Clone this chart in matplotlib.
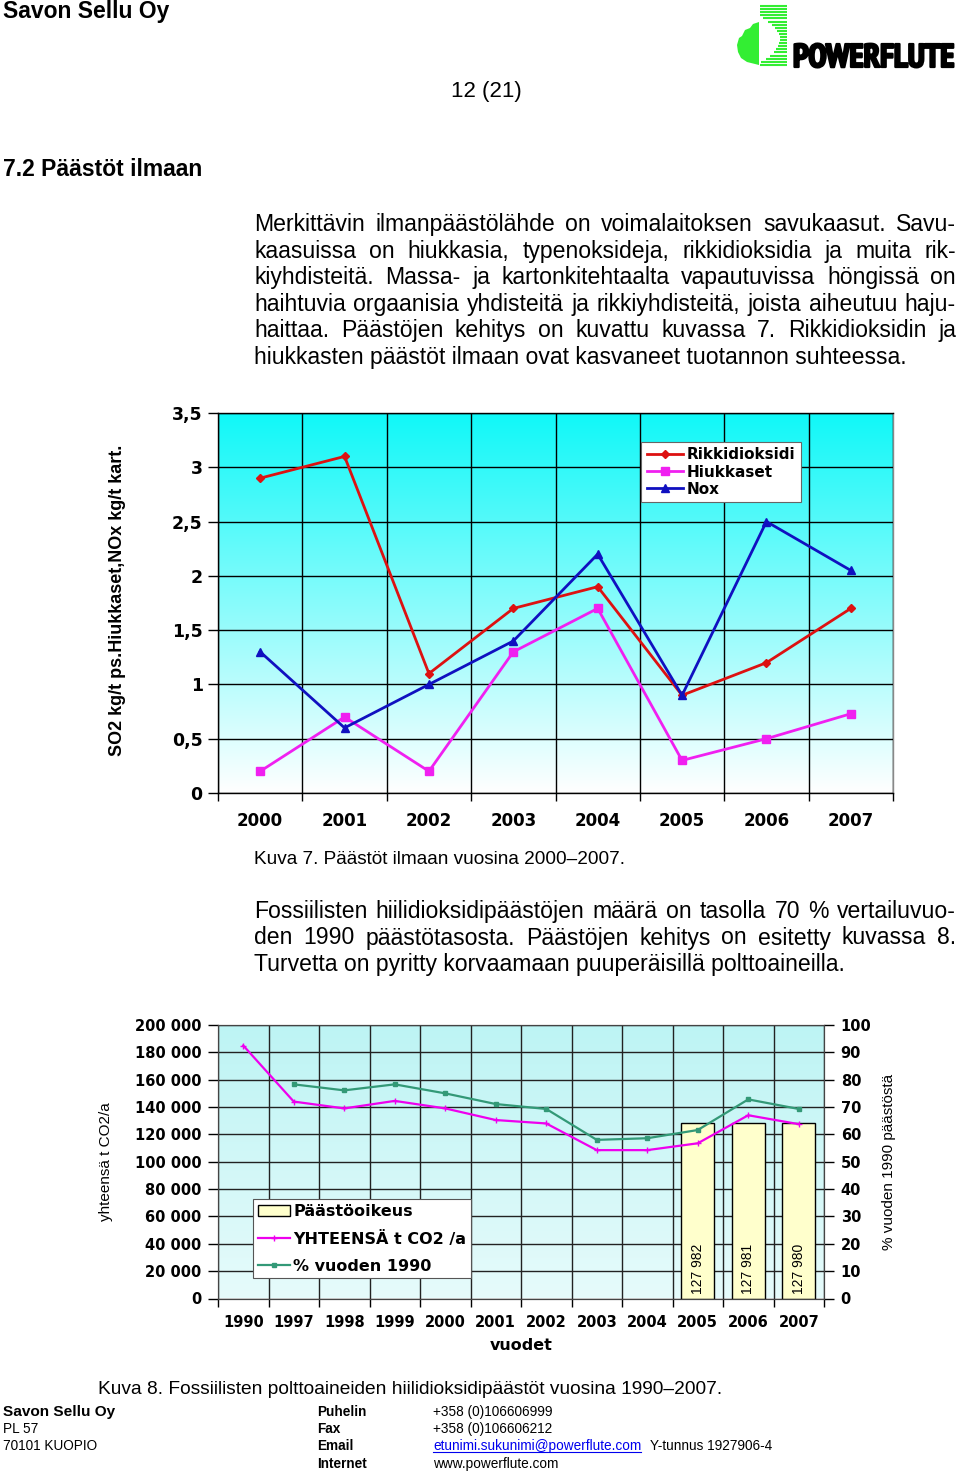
import numpy as np
import matplotlib
matplotlib.use("Agg")
import matplotlib.pyplot as plt
from matplotlib import font_manager
from matplotlib import patheffects
from matplotlib.patches import Polygon

# --- data: kuva 7 (emissions to air, kg/t) ---
years1 = ["2000", "2001", "2002", "2003", "2004", "2005", "2006", "2007"]
so2 = [2.9, 3.1, 1.1, 1.7, 1.9, 0.9, 1.2, 1.7]
particles = [0.2, 0.7, 0.2, 1.3, 1.7, 0.3, 0.5, 0.73]
nox = [1.3, 0.6, 1.0, 1.4, 2.2, 0.9, 2.5, 2.05]
yticks1 = [0, 0.5, 1, 1.5, 2, 2.5, 3, 3.5]

# --- data: kuva 8 (fossil CO2) ---
years2 = ["1990", "1997", "1998", "1999", "2000", "2001", "2002",
          "2003", "2004", "2005", "2006", "2007"]
co2_total = [185000, 144000, 139000, 144500, 139000, 130500, 128000,
             108500, 108500, 113500, 134000, 127500]
pct_1990 = [np.nan, 78.3, 76.1, 78.3, 75.0, 71.1, 69.3, 58.0, 58.6, 61.6, 72.8, 69.3]
allowance = [np.nan] * 9 + [127982, 127981, 127980]
yticks2 = list(range(0, 200001, 20000))
yticks2r = list(range(0, 101, 10))

para1 = [
    "Merkittävin ilmanpäästölähde on voimalaitoksen savukaasut. Savu-",
    "kaasuissa on hiukkasia, typenoksideja, rikkidioksidia ja muita rik-",
    "kiyhdisteitä. Massa- ja kartonkitehtaalta vapautuvissa höngissä on",
    "haihtuvia orgaanisia yhdisteitä ja rikkiyhdisteitä, joista aiheutuu haju-",
    "haittaa. Päästöjen kehitys on kuvattu kuvassa 7. Rikkidioksidin ja",
    "hiukkasten päästöt ilmaan ovat kasvaneet tuotannon suhteessa.",
]
para2 = [
    "Fossiilisten hiilidioksidipäästöjen määrä on tasolla 70 % vertailuvuo-",
    "den 1990 päästötasosta. Päästöjen kehitys on esitetty kuvassa 8.",
    "Turvetta on pyritty korvaamaan puuperäisillä polttoaineilla.",
]

W, H = 960, 1473
BODY = "Liberation Sans"
BOLDW = "DejaVu Sans"

# condensed bold face for the logo word, if one is installed
logo_font = font_manager.FontProperties(family=BODY, weight="bold")
narrow = [f for f in font_manager.fontManager.ttflist
          if ("Narrow" in f.name or "Condensed" in f.name or "condensed" in str(f.stretch))
          and f.weight in (600, 700, 800, 900, "bold", "heavy", "black")
          and f.style == "normal"]
if narrow:
    narrow.sort(key=lambda f: 0 if "Narrow" in f.name else 1)
    logo_font = font_manager.FontProperties(fname=narrow[0].fname)

fig = plt.figure(figsize=(W / 100, H / 100), dpi=100)
fig.patch.set_facecolor("white")
renderer = fig.canvas.get_renderer()

page = fig.add_axes([0, 0, 1, 1])
page.set_xlim(0, W)
page.set_ylim(H, 0)
page.axis("off")


def fit_size(s, width, **kw):
    t = page.text(0, 0, s, fontsize=10, **kw)
    w = t.get_window_extent(renderer).width
    t.remove()
    return 10 * width / w


def justify(lines, x0, x1, base, step, fs):
    for i, line in enumerate(lines):
        y = base + i * step
        if i == len(lines) - 1:
            page.text(x0, y, line, fontsize=fs, family=BODY, va="baseline")
            continue
        words = line.split(" ")
        arts = [page.text(x0, y, w, fontsize=fs, family=BODY, va="baseline") for w in words]
        widths = [a.get_window_extent(renderer).width for a in arts]
        gap = (x1 - x0 - sum(widths)) / (len(words) - 1)
        x = x0
        for a, w in zip(arts, widths):
            a.set_x(x)
            x += w + gap


# header
fs = fit_size("Savon Sellu Oy", 167, family=BODY, weight="bold")
page.text(3, 18, "Savon Sellu Oy", fontsize=fs, family=BODY, weight="bold", va="baseline")
fs = fit_size("12 (21)", 71, family=BODY)
page.text(486, 97, "12 (21)", fontsize=fs, family=BODY, ha="center", va="baseline")
fs = fit_size("7.2 Päästöt ilmaan", 200, family=BODY, weight="bold")
page.text(3, 176, "7.2 Päästöt ilmaan", fontsize=fs, family=BODY, weight="bold", va="baseline")

# logo
green = "#33EE33"
for y in np.arange(6, 67, 3.1):
    xl = 760
    if 17 < y < 62:
        xl = 760 + 20 * np.sin(np.pi * (y - 17) / 45) ** 0.8
    page.plot([xl, 787], [y, y], color=green, lw=1.5, solid_capstyle="butt")
page.add_patch(Polygon([(759, 22), (753, 24), (750, 28), (745, 30), (742, 36), (739, 38),
                        (737, 45), (738, 52), (741, 58), (747, 62), (759, 65)],
                       closed=True, color=green, lw=0))
t = page.text(0, 0, "POWERFLUTE", fontproperties=logo_font, fontsize=10)
lw_ = t.get_window_extent(renderer).width
t.remove()
logo_fs = 10 * 162 / lw_
page.text(793, 67, "POWERFLUTE", fontproperties=logo_font, fontsize=logo_fs, va="baseline",
          color="black",
          path_effects=[patheffects.withStroke(linewidth=1.6, foreground="black")])

# body text
body_fs = fit_size(para1[-1], 654, family=BODY)
justify(para1, 254, 956, 231, 26.6, body_fs)
justify(para2, 254, 956, 918, 26.5, body_fs)

cap_fs = fit_size("Kuva 7. Päästöt ilmaan vuosina 2000–2007.", 374, family=BODY)
page.text(254, 864, "Kuva 7. Päästöt ilmaan vuosina 2000–2007.", fontsize=cap_fs,
          family=BODY, va="baseline")
cap8 = "Kuva 8. Fossiilisten polttoaineiden hiilidioksidipäästöt vuosina 1990–2007."
page.text(98, 1394, cap8, fontsize=fit_size(cap8, 629, family=BODY), family=BODY, va="baseline")

# footer
ffs = fit_size("+358 (0)106606999", 119, family=BODY)
page.text(3, 1416, "Savon Sellu Oy", fontsize=fit_size("Savon Sellu Oy", 112, family=BODY, weight="bold"),
          family=BODY, weight="bold", va="baseline")
page.text(3, 1433, "PL 57", fontsize=ffs, family=BODY, va="baseline")
page.text(3, 1450, "70101 KUOPIO", fontsize=ffs, family=BODY, va="baseline")
for y, lab in zip([1416, 1433, 1450, 1468], ["Puhelin", "Fax", "Email", "Internet"]):
    page.text(317, y, lab, fontsize=ffs, family=BODY, weight="bold", va="baseline")
page.text(433, 1416, "+358 (0)106606999", fontsize=ffs, family=BODY, va="baseline")
page.text(433, 1433, "+358 (0)106606212", fontsize=ffs, family=BODY, va="baseline")
em = page.text(433, 1450, "etunimi.sukunimi@powerflute.com", fontsize=ffs, family=BODY,
               va="baseline", color="#0000EE")
ew = em.get_window_extent(renderer).width
page.plot([433, 433 + ew], [1452, 1452], color="#0000EE", lw=0.8)
page.text(650, 1450, "Y-tunnus 1927906-4", fontsize=ffs, family=BODY, va="baseline")
page.text(433, 1468, "www.powerflute.com", fontsize=ffs, family=BODY, va="baseline")


def px_axes(x0, x1, y0, y1):
    return fig.add_axes([x0 / W, 1 - y1 / H, (x1 - x0) / W, (y1 - y0) / H])


# ---------- chart 1 ----------
ax1 = px_axes(218, 893, 413, 793)
x1 = np.arange(len(years1))
ax1.set_xlim(-0.5, len(years1) - 0.5)
ax1.set_ylim(0, 3.5)
grad = np.linspace(1, 0, 256)[:, None]
cmap1 = matplotlib.colors.LinearSegmentedColormap.from_list("c1", ["white", "#10F8F8"])
ax1.imshow(grad, cmap=cmap1, extent=[-0.5, len(years1) - 0.5, 0, 3.5], aspect="auto",
           zorder=0, vmin=0, vmax=1)
ax1.set_yticks(yticks1)
ax1.set_yticklabels([f"{v:g}".replace(".", ",") for v in yticks1])
ax1.set_xticks(x1)
ax1.set_xticklabels(years1)
ax1.set_xticks(np.arange(-0.5, len(years1)), minor=True)
ax1.grid(axis="y", which="major", color="black", lw=1, zorder=1)
ax1.grid(axis="x", which="minor", color="black", lw=1, zorder=1)
ax1.set_axisbelow(False)
ax1.tick_params(axis="x", which="major", length=0, pad=14, labelsize=12)
ax1.tick_params(axis="x", which="minor", length=6, width=1, direction="out")
ax1.tick_params(axis="y", length=7, width=1, direction="out", pad=4, labelsize=12.5)
for lab in ax1.get_xticklabels() + ax1.get_yticklabels():
    lab.set_fontweight("bold")
    lab.set_family(BOLDW)
for s in ax1.spines.values():
    s.set_color("black")
    s.set_linewidth(1)
ax1.spines["right"].set_color("#888888")

ax1.plot(x1, so2, color="#DD1111", lw=2, marker="D", ms=4, label="Rikkidioksidi", zorder=3)
ax1.plot(x1, particles, color="#F020F0", lw=2, marker="s", ms=6, label="Hiukkaset", zorder=3)
ax1.plot(x1, nox, color="#1010C0", lw=2, marker="^", ms=6, label="Nox", zorder=3)
leg1 = ax1.legend(loc="upper left", bbox_to_anchor=(0.627, 0.924), borderaxespad=0,
                  fancybox=False, framealpha=1, edgecolor="#666666", handlelength=2.4,
                  handletextpad=0.25, labelspacing=0.15, borderpad=0.35,
                  prop={"family": BOLDW, "weight": "bold", "size": 11})
leg1.get_frame().set_linewidth(0.8)
ax1.set_ylabel("SO2 kg/t ps.Hiukkaset,NOx kg/t kart.", fontsize=13, family=BODY, weight="bold")
ax1.yaxis.set_label_coords(-0.136, 0.508)

# ---------- chart 2 ----------
ax2 = px_axes(218, 824, 1025, 1298.5)
x2 = np.arange(len(years2))
ax2.set_xlim(-0.5, len(years2) - 0.5)
ax2.set_ylim(0, 200000)
cmap2 = matplotlib.colors.LinearSegmentedColormap.from_list("c2", ["#E6FBFB", "#BDF4F4"])
ax2.imshow(grad, cmap=cmap2, extent=[-0.5, len(years2) - 0.5, 0, 200000], aspect="auto",
           zorder=0, vmin=0, vmax=1)
ax2.set_yticks(yticks2)
ax2.set_yticklabels([f"{v:,}".replace(",", " ") for v in yticks2])
ax2.set_xticks(x2)
ax2.set_xticklabels(years2)
ax2.set_xticks(np.arange(-0.5, len(years2)), minor=True)
ax2.grid(axis="y", which="major", color="#222222", lw=1, zorder=1)
ax2.grid(axis="x", which="minor", color="#222222", lw=1, zorder=1)
ax2.tick_params(axis="x", which="major", length=0, pad=12, labelsize=10.5)
ax2.tick_params(axis="x", which="minor", length=6, width=1, direction="out")
ax2.tick_params(axis="y", length=7, width=1, direction="out", pad=5, labelsize=10.5)
for lab in ax2.get_xticklabels() + ax2.get_yticklabels():
    lab.set_fontweight("bold")
    lab.set_family(BOLDW)
for s in ax2.spines.values():
    s.set_color("#444444")

bars = ax2.bar(x2, allowance, width=0.66, color="#FFFFCC", edgecolor="black", lw=1,
               zorder=2, label="Päästöoikeus")
for xi, v in zip(x2, allowance):
    if not np.isnan(v):
        ax2.text(xi, 3000, f"{int(v):,}".replace(",", " "), rotation=90, ha="center",
                 va="bottom", fontsize=10, family=BODY, zorder=4)
ln_tot, = ax2.plot(x2, co2_total, color="#EE00EE", lw=1.6, marker="+", ms=4, mew=1,
                   label="YHTEENSÄ t CO2 /a", zorder=3)
ax2.set_ylabel("yhteensä t CO2/a", fontsize=11, family=BODY)
ax2.yaxis.set_label_coords(-0.173, 0.5)
ax2.set_xlabel("vuodet", fontsize=11.5, family=BOLDW, weight="bold", labelpad=6)

ax2r = ax2.twinx()
ax2r.set_ylim(0, 100)
ax2r.set_yticks(yticks2r)
ax2r.tick_params(axis="y", length=7, width=1, direction="out", pad=5, labelsize=10.5)
for lab in ax2r.get_yticklabels():
    lab.set_fontweight("bold")
    lab.set_family(BOLDW)
for s in ax2r.spines.values():
    s.set_color("#444444")
ln_pct, = ax2r.plot(x2, pct_1990, color="#339977", lw=1.6, marker="s", ms=3,
                    label="% vuoden 1990", zorder=3)
ax2r.set_ylabel("% vuoden 1990 päästöstä", fontsize=11, family=BODY)
ax2r.yaxis.set_label_coords(1.096, 0.5)

leg2 = ax2r.legend([bars, ln_tot, ln_pct],
                   ["Päästöoikeus", "YHTEENSÄ t CO2 /a", "% vuoden 1990"],
                   loc="upper left", bbox_to_anchor=(0.058, 0.364), borderaxespad=0,
                   fancybox=False, framealpha=1, edgecolor="#555555", handlelength=2.0,
                   handletextpad=0.2, labelspacing=0.75, borderpad=0.3,
                   prop={"family": BOLDW, "weight": "bold", "size": 11.5})
leg2.get_frame().set_linewidth(0.8)

fig.savefig("out.png", dpi=100, facecolor="white")
